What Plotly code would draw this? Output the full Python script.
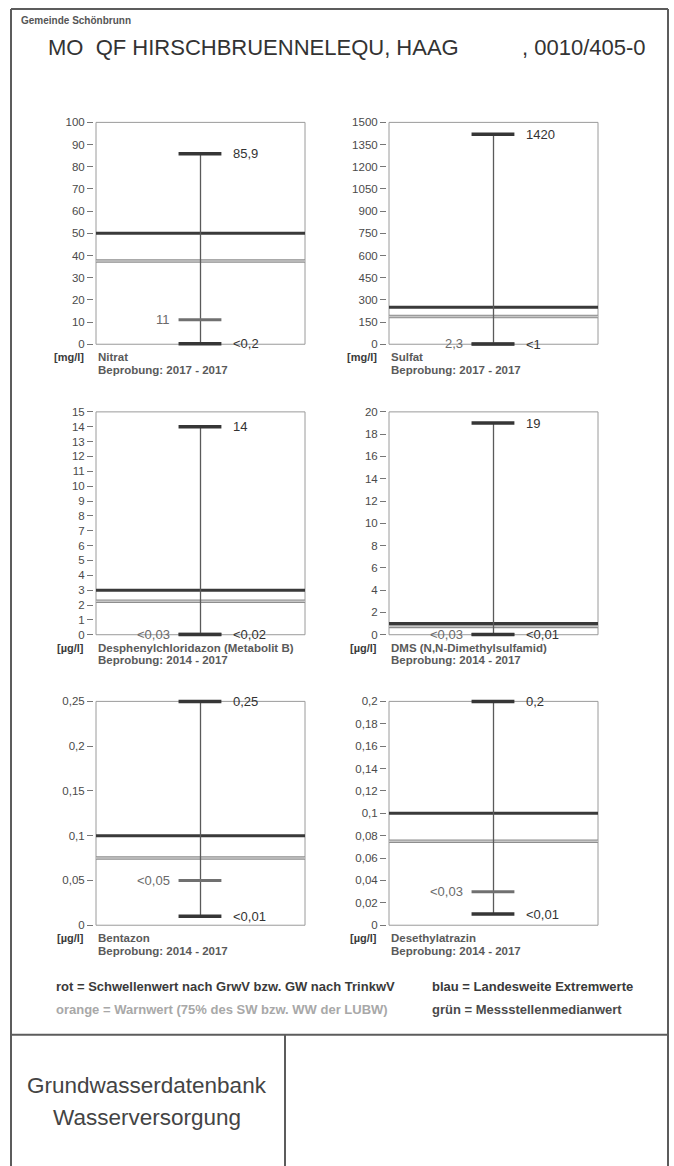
import plotly.graph_objects as go

W, H = 674, 1166
FONT = "Liberation Sans"

# ---------------- data ----------------
substances = ["Nitrat", "Sulfat", "Desphenylchloridazon (Metabolit B)",
              "DMS (N,N-Dimethylsulfamid)", "Bentazon", "Desethylatrazin"]
units = ["[mg/l]", "[mg/l]", "[µg/l]", "[µg/l]", "[µg/l]", "[µg/l]"]
periods = ["2017 - 2017", "2017 - 2017", "2014 - 2017",
           "2014 - 2017", "2014 - 2017", "2014 - 2017"]
threshold = [50, 250, 3, 1, 0.1, 0.1]            # rot
warning = [37.5, 187.5, 2.25, 0.75, 0.075, 0.075]  # orange
ext_max = [85.9, 1420, 14, 19, 0.25, 0.2]        # blau (max)
ext_min = [0.2, 1, 0.02, 0.01, 0.01, 0.01]       # blau (min)
median = [11, 2.3, 0.03, 0.03, 0.05, 0.03]       # grün
max_text = ["85,9", "1420", "14", "19", "0,25", "0,2"]
min_text = ["<0,2", "<1", "<0,02", "<0,01", "<0,01", "<0,01"]
median_text = ["11", "2,3", "<0,03", "<0,03", "<0,05", "<0,03"]
y_top = [100, 1500, 15, 20, 0.25, 0.2]
tick_vals = [
    [0, 10, 20, 30, 40, 50, 60, 70, 80, 90, 100],
    [0, 150, 300, 450, 600, 750, 900, 1050, 1200, 1350, 1500],
    [0, 1, 2, 3, 4, 5, 6, 7, 8, 9, 10, 11, 12, 13, 14, 15],
    [0, 2, 4, 6, 8, 10, 12, 14, 16, 18, 20],
    [0, 0.05, 0.1, 0.15, 0.2, 0.25],
    [0, 0.02, 0.04, 0.06, 0.08, 0.1, 0.12, 0.14, 0.16, 0.18, 0.2],
]
tick_text = [
    ["0", "10", "20", "30", "40", "50", "60", "70", "80", "90", "100"],
    ["0", "150", "300", "450", "600", "750", "900", "1050", "1200", "1350", "1500"],
    ["0", "1", "2", "3", "4", "5", "6", "7", "8", "9", "10", "11", "12", "13", "14", "15"],
    ["0", "2", "4", "6", "8", "10", "12", "14", "16", "18", "20"],
    ["0", "0,05", "0,1", "0,15", "0,2", "0,25"],
    ["0", "0,02", "0,04", "0,06", "0,08", "0,1", "0,12", "0,14", "0,16", "0,18", "0,2"],
]

# ---------------- layout (pixels) ----------------
lefts = [96, 389, 96, 389, 96, 389]
rights = [305, 598, 305, 598, 305, 598]
tops = [120, 120, 411, 411, 702, 702]
bottoms = [343, 343, 635, 635, 927, 927]
PADY, PADX = 3, 2

def px(x):
    return x / W

def py(y):
    return 1 - y / H

fig = go.Figure()
shapes = []
annotations = []

C_THR = "#3a3a3a"
C_EXT = "#363636"
C_MED = "#707070"

for i in range(6):
    n = "" if i == 0 else str(i + 1)
    xa, ya = "x" + n, "y" + n
    L, R, T, B = lefts[i], rights[i], tops[i], bottoms[i]
    pady = PADY * y_top[i] / (B - T)
    padx = PADX / (R - L)
    fig.update_layout({
        "xaxis" + n: dict(domain=[px(L - PADX), px(R + PADX)], range=[-padx, 1 + padx],
                          visible=False, anchor=ya, fixedrange=True),
        "yaxis" + n: dict(domain=[py(B + PADY), py(T - PADY)], range=[-pady, y_top[i] + pady],
                          anchor=xa, tickvals=tick_vals[i], ticktext=tick_text[i],
                          ticks="outside", ticklen=6, tickwidth=1, tickcolor="#777",
                          tickfont=dict(family=FONT, size=11.5, color="#4a4a4a"),
                          showline=False, showgrid=False, zeroline=False, fixedrange=True),
    })
    # plot box
    shapes.append(dict(type="rect", xref=xa, yref=ya, x0=0, x1=1, y0=0, y1=y_top[i],
                       line=dict(color="#9a9a9a", width=1), layer="below"))
    # warning (orange)
    shapes.append(dict(type="line", xref=xa, yref=ya, x0=0, x1=1, y0=warning[i], y1=warning[i],
                       line=dict(color="#8e8e8e", width=3.5), layer="below"))
    shapes.append(dict(type="line", xref=xa, yref=ya, x0=0, x1=1, y0=warning[i], y1=warning[i],
                       line=dict(color="#c6c6c6", width=1.4), layer="below"))
    # threshold (rot)
    shapes.append(dict(type="line", xref=xa, yref=ya, x0=0, x1=1, y0=threshold[i], y1=threshold[i],
                       line=dict(color=C_THR, width=3), layer="below"))

    # whisker
    fig.add_trace(go.Scatter(x=[0.5, 0.5], y=[ext_min[i], ext_max[i]], xaxis=xa, yaxis=ya,
                             mode="lines", line=dict(color="#5a5a5a", width=1.3),
                             hoverinfo="skip", showlegend=False))
    # median cap
    fig.add_trace(go.Scatter(x=[0.395, 0.6], y=[median[i], median[i]], xaxis=xa, yaxis=ya,
                             mode="lines", line=dict(color=C_MED, width=3),
                             hoverinfo="skip", showlegend=False))
    # extreme caps
    for v in (ext_max[i], ext_min[i]):
        fig.add_trace(go.Scatter(x=[0.395, 0.6], y=[v, v], xaxis=xa, yaxis=ya,
                                 mode="lines", line=dict(color=C_EXT, width=3.5),
                                 hoverinfo="skip", showlegend=False))
    # value labels
    annotations.append(dict(xref=xa, yref=ya, x=0.645, y=ext_max[i], text=max_text[i],
                            xanchor="left", yanchor="middle", showarrow=False,
                            font=dict(family=FONT, size=13, color="#333")))
    annotations.append(dict(xref=xa, yref=ya, x=0.645, y=ext_min[i], text=min_text[i],
                            xanchor="left", yanchor="middle", showarrow=False,
                            font=dict(family=FONT, size=13, color="#333")))
    annotations.append(dict(xref=xa, yref=ya, x=0.365, y=median[i], text=median_text[i],
                            xanchor="right", yanchor="middle", showarrow=False,
                            font=dict(family=FONT, size=13, color="#6a6a6a")))
    # captions under the panel
    annotations.append(dict(xref="paper", yref="paper", x=px(L - 10), y=py(B + 13),
                            text="<b>" + units[i] + "</b>", xanchor="right", yanchor="middle",
                            showarrow=False, font=dict(family=FONT, size=11, color="#3a3a3a")))
    annotations.append(dict(xref="paper", yref="paper", x=px(L), y=py(B + 13),
                            text="<b>" + substances[i] + "</b>", xanchor="left", yanchor="middle",
                            showarrow=False, font=dict(family=FONT, size=11.5, color="#5a5a5a")))
    annotations.append(dict(xref="paper", yref="paper", x=px(L), y=py(B + 25.5),
                            text="<b>Beprobung: " + periods[i] + "</b>", xanchor="left",
                            yanchor="middle", showarrow=False,
                            font=dict(family=FONT, size=11.5, color="#5a5a5a")))

# ---------------- page frame ----------------
BORDER = "#5c5c5c"
shapes += [
    dict(type="line", xref="paper", yref="paper", x0=px(11), x1=px(668), y0=py(6), y1=py(6),
         line=dict(color=BORDER, width=2)),
    dict(type="line", xref="paper", yref="paper", x0=px(11), x1=px(11), y0=py(6), y1=py(1170),
         line=dict(color=BORDER, width=2)),
    dict(type="line", xref="paper", yref="paper", x0=px(668), x1=px(668), y0=py(6), y1=py(1170),
         line=dict(color=BORDER, width=2)),
    dict(type="line", xref="paper", yref="paper", x0=px(11), x1=px(668), y0=py(1037), y1=py(1037),
         line=dict(color=BORDER, width=2)),
    dict(type="line", xref="paper", yref="paper", x0=px(285), x1=px(285), y0=py(1037), y1=py(1170),
         line=dict(color=BORDER, width=2)),
]

def txt(x, y, s, size, color, anchor="left", bold=False):
    annotations.append(dict(xref="paper", yref="paper", x=px(x), y=py(y),
                            text=("<b>%s</b>" % s) if bold else s, xanchor=anchor,
                            yanchor="middle", showarrow=False,
                            font=dict(family=FONT, size=size, color=color)))

txt(19, 18, "Gemeinde Schönbrunn", 10, "#555", bold=True)
txt(46, 45, "MO\u00a0 QF HIRSCHBRUENNELEQU, HAAG", 22, "#333")
txt(648, 45, ", 0010/405-0", 22, "#333", anchor="right")

txt(54, 989, "rot = Schwellenwert nach GrwV bzw. GW nach TrinkwV", 13, "#3a3a3a", bold=True)
txt(430, 989, "blau = Landesweite Extremwerte", 13, "#3a3a3a", bold=True)
txt(54, 1012, "orange = Warnwert (75% des SW bzw. WW der LUBW)", 13, "#a8a8a8", bold=True)
txt(430, 1012, "grün = Messstellenmedianwert", 13, "#4a4a4a", bold=True)

txt(147, 1088, "Grundwasserdatenbank", 22.5, "#444", anchor="center")
txt(147, 1120, "Wasserversorgung", 22.5, "#444", anchor="center")

fig.update_layout(
    width=W, height=H, margin=dict(l=0, r=0, t=0, b=0),
    paper_bgcolor="white", plot_bgcolor="white",
    showlegend=False, shapes=shapes, annotations=annotations,
    font=dict(family=FONT),
)

fig.write_html("out.html", config={"displayModeBar": False},
               post_script="document.body.style.margin='0';document.body.style.overflow='hidden';")
